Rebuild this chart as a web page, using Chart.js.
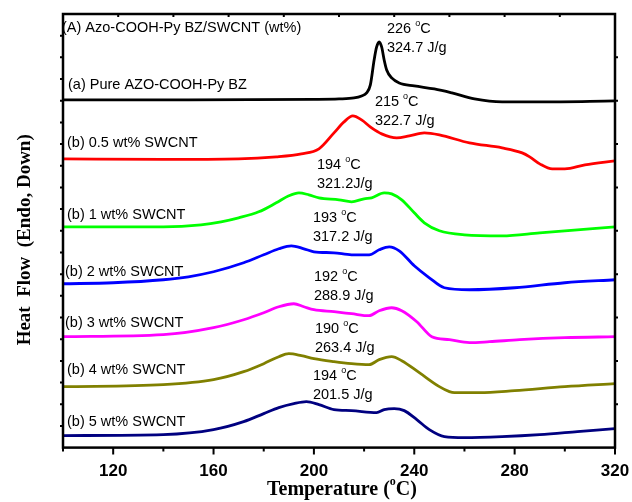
<!DOCTYPE html>
<html>
<head>
<meta charset="utf-8">
<script src="https://cdn.jsdelivr.net/npm/chart.js@4.4.1/dist/chart.umd.min.js"></script>
<style>
  html, body { margin: 0; padding: 0; background: #fff; }
</style>
</head>
<body>
<canvas id="dsc" width="632" height="502"></canvas>
<script>
// temperature axis labels
const tickLabels = [120, 160, 200, 240, 280, 320];

// heat flow (arbitrary units, curves stacked) vs temperature
const pureTemp = [100, 150, 200, 210, 216, 219, 221, 222.5, 224, 225, 226, 227, 228, 229, 231, 234, 240, 248, 255, 264, 275, 290, 320];
const pureFlow = [348, 348, 348.5, 349, 350, 352, 355, 363, 388, 401, 406, 401, 388, 378, 370, 365, 362, 359, 355, 349, 346, 346, 347];

const cnt05Temp = [100, 140, 170, 185, 195, 202, 208, 212, 215.5, 219, 223, 227, 233, 238, 244, 250, 262, 275, 283, 286, 290, 295, 300, 308, 320];
const cnt05Flow = [289, 288.5, 289, 291, 294, 299, 315, 326, 332, 328, 320, 314, 310, 312, 315, 313, 305, 300, 295, 291, 284, 279, 279, 283, 287];

const cnt1Temp = [100, 140, 155, 163, 170, 178, 185, 190, 194, 198, 202, 210, 215, 220, 223, 228, 231, 235, 240, 244, 250, 260, 275, 290, 305, 320];
const cnt1Flow = [221, 221, 223, 226, 230, 236, 245, 252, 255, 253, 250, 248, 246, 249, 250, 255, 254, 248, 235, 225, 217, 213, 212, 215, 218, 221];

const cnt2Temp = [100, 120, 140, 150, 160, 172, 180, 186, 191, 196, 200, 208, 215, 222, 226, 230, 234, 240, 246, 252, 262, 280, 300, 320];
const cnt2Flow = [164, 165, 168, 171, 176, 185, 193, 199, 202, 199, 196, 195, 193, 193, 198, 201, 197, 182, 170, 160, 158, 160, 165, 168];

const cnt3Temp = [100, 140, 160, 172, 180, 186, 192, 196, 200, 208, 215, 222, 226, 231, 235, 241, 247, 254, 262, 270, 282, 300, 320];
const cnt3Flow = [111, 113, 120, 128, 135, 141, 144, 141, 138, 136, 134, 132, 137, 140, 137, 126, 111, 108, 105, 106, 108, 110, 111];

const cnt4Temp = [100, 140, 160, 172, 180, 186, 190, 195, 200, 208, 215, 222, 226, 231, 235, 242, 250, 254, 256, 266, 280, 300, 320];
const cnt4Flow = [61, 63, 68, 76, 84, 91, 94, 92, 89, 86, 84, 83, 88, 91, 87, 75, 61, 56, 55, 55, 57, 61, 64];

const cnt5Temp = [100, 140, 160, 172, 180, 186, 192, 197, 202, 208, 215, 225, 228, 232, 236, 241, 246, 252, 260, 275, 290, 305, 320];
const cnt5Flow = [12, 13, 18, 26, 34, 40, 44, 46, 43, 38, 37, 35, 38, 39, 37, 28, 18, 11, 10, 11, 13, 16, 19];

const sampleNames = ['(a) Pure AZO-COOH-Py BZ', '(b) 0.5 wt% SWCNT', '(b) 1 wt% SWCNT', '(b) 2 wt% SWCNT',
                     '(b) 3 wt% SWCNT', '(b) 4 wt% SWCNT', '(b) 5 wt% SWCNT'];
const peakTemps = ['226 °C', '215 °C', '194 °C', '193 °C', '192 °C', '190 °C', '194 °C'];
const enthalpies = ['324.7 J/g', '322.7 J/g', '321.2J/g', '317.2 J/g', '288.9 J/g', '263.4 J/g', '201.5 J/g'];
const headerText = '(A) Azo-COOH-Py BZ/SWCNT (wt%)';

const curves = [
    [pureTemp, pureFlow, '#000000'],
    [cnt05Temp, cnt05Flow, '#ff0000'],
    [cnt1Temp, cnt1Flow, '#00ff00'],
    [cnt2Temp, cnt2Flow, '#0000ff'],
    [cnt3Temp, cnt3Flow, '#ff00ff'],
    [cnt4Temp, cnt4Flow, '#808000'],
    [cnt5Temp, cnt5Flow, '#000080']
];

// where the texts sit, in axis units
const namePos = [[102, 363], [101.6, 305], [101.6, 233], [100.8, 176], [100.8, 125], [101.6, 78], [101.6, 26]];
const peakPos = [[229.1, 419], [224.3, 346], [201.2, 283], [199.6, 230], [200, 171], [200.4, 119], [199.6, 72]];

const SANS = '"Liberation Sans", Arial, sans-serif';
const SERIF = '"Liberation Serif", "Times New Roman", serif';

// writes a string, turning the degree sign into a raised small "o"
function drawText(ctx, str, x, y, weight, size, family, align) {
    const parts = str.split('°');
    const big = weight + ' ' + size + 'px ' + family;
    const small = weight + ' ' + Math.round(size * 0.62) + 'px ' + family;
    ctx.font = big;
    const w0 = ctx.measureText(parts[0]).width;
    let w1 = 0, w2 = 0;
    if (parts.length > 1) {
        ctx.font = small;
        w1 = ctx.measureText('o').width;
        ctx.font = big;
        w2 = ctx.measureText(parts[1]).width;
    }
    const sx = align === 'center' ? x - (w0 + w1 + w2) / 2 : x;
    ctx.textAlign = 'left';
    ctx.textBaseline = 'middle';
    ctx.font = big;
    ctx.fillText(parts[0], sx, y);
    if (parts.length > 1) {
        ctx.font = small;
        ctx.fillText('o', sx + w0, y - size * 0.38);
        ctx.font = big;
        ctx.fillText(parts[1], sx + w0 + w1, y);
    }
}

const textPlugin = {
    id: 'dscText',
    afterDatasetsDraw(chart) {
        const ctx = chart.ctx;
        const xs = chart.scales.x, ys = chart.scales.y;
        const a = chart.chartArea;
        ctx.save();
        ctx.fillStyle = '#000';
        drawText(ctx, headerText, xs.getPixelForValue(99.6), ys.getPixelForValue(420), 'normal', 14.5, SANS, 'left');
        for (let i = 0; i < sampleNames.length; i++) {
            drawText(ctx, sampleNames[i], xs.getPixelForValue(namePos[i][0]), ys.getPixelForValue(namePos[i][1]), 'normal', 14.5, SANS, 'left');
            const px = xs.getPixelForValue(peakPos[i][0]);
            drawText(ctx, peakTemps[i], px, ys.getPixelForValue(peakPos[i][1]), 'normal', 14.5, SANS, 'left');
            drawText(ctx, enthalpies[i], px, ys.getPixelForValue(peakPos[i][1] - 19), 'normal', 14.5, SANS, 'left');
        }

        // frame
        ctx.strokeStyle = '#000';
        ctx.lineWidth = 2.5;
        ctx.strokeRect(a.left, a.top, a.right - a.left, a.bottom - a.top);

        // ticks
        ctx.lineWidth = 2;
        ctx.beginPath();
        for (let t = 100; t <= 320; t += 20) {
            const x = xs.getPixelForValue(t);
            const len = (t - 120) % 40 === 0 ? 7 : 4;
            ctx.moveTo(x, a.bottom);
            ctx.lineTo(x, a.bottom + len);
        }
        const h = a.bottom - a.top, w = a.right - a.left;
        for (let k = 1; k < 10; k++) {
            const x = a.left + w * k / 10;
            ctx.moveTo(x, a.top);
            ctx.lineTo(x, a.top + 3);
            const y = a.top + h * k / 10;
            ctx.moveTo(a.right, y);
            ctx.lineTo(a.right + 3, y);
        }
        for (let k = 1; k < 20; k++) {
            const y = a.top + h * k / 20;
            ctx.moveTo(a.left, y);
            ctx.lineTo(a.left - 3, y);
        }
        ctx.stroke();

        // axis titles
        drawText(ctx, 'Temperature (°C)', (a.left + a.right) / 2 + 3, 490, 'bold', 20, SERIF, 'center');
        ctx.translate(25, (a.top + a.bottom) / 2 + 9);
        ctx.rotate(-Math.PI / 2);
        drawText(ctx, 'Heat  Flow  (Endo, Down)', 0, 0, 'bold', 19, SERIF, 'center');
        ctx.restore();
    }
};

new Chart(document.getElementById('dsc'), {
    type: 'line',
    data: {
        datasets: curves.map(c => ({
            data: c[0].map((t, i) => ({ x: t, y: c[1][i] })),
            borderColor: c[2],
            borderWidth: 2.8,
            pointRadius: 0,
            fill: false,
            cubicInterpolationMode: 'monotone'
        }))
    },
    options: {
        responsive: false,
        animation: false,
        devicePixelRatio: 1,
        layout: { padding: { left: 63, right: 17, top: 14, bottom: 6 } },
        plugins: {
            legend: { display: false },
            tooltip: { enabled: false }
        },
        scales: {
            x: {
                type: 'linear',
                min: 100,
                max: 320,
                afterBuildTicks: (scale) => {
                    scale.ticks = tickLabels.map(v => ({ value: v }));
                },
                afterFit: (scale) => {
                    scale.paddingLeft = 0;
                    scale.paddingRight = 0;
                },
                grid: { display: false, drawTicks: false },
                border: { display: false },
                ticks: {
                    color: '#000',
                    padding: 14,
                    maxRotation: 0,
                    font: { family: SANS, size: 17, weight: 'bold' }
                }
            },
            y: {
                display: false,
                min: 0,
                max: 434
            }
        }
    },
    plugins: [textPlugin]
});
</script>
</body>
</html>
